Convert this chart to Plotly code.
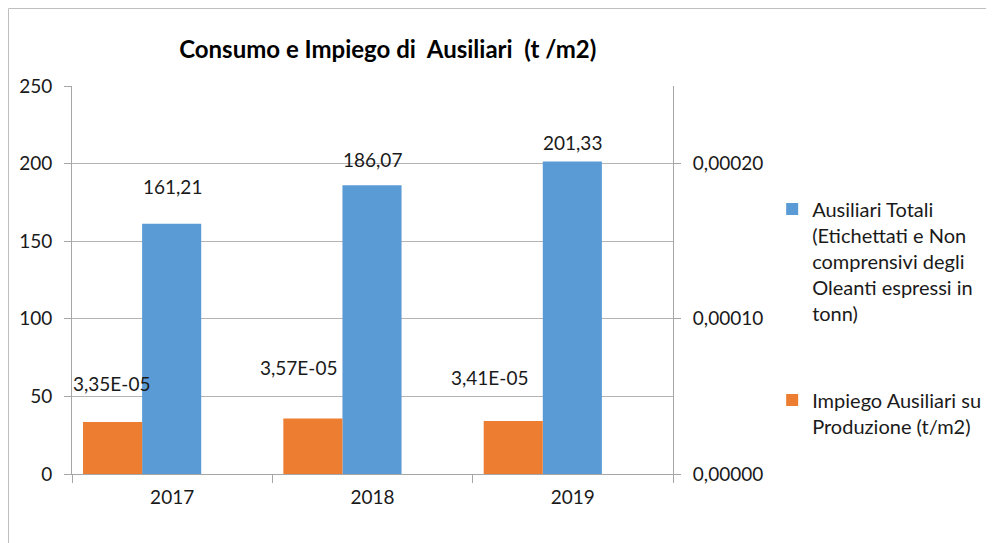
import plotly.graph_objects as go

# Dati
anni = ["2017", "2018", "2019"]
ausiliari_totali = [161.21, 186.07, 201.33]
impiego_su_produzione = [3.35e-05, 3.57e-05, 3.41e-05]

nome_totali = "Ausiliari Totali<br>(Etichettati e Non<br>comprensivi degli<br>Oleanti espressi in<br>tonn)"
nome_impiego = "Impiego Ausiliari su<br>Produzione (t/m2)"

blu = "#5B9BD5"
arancio = "#ED7D31"
grigio_assi = "#A6A6A6"
font_base = "Lato"
testo = "#1a1a1a"

# area del grafico (px, coordinate della figura)
W, H = 994, 543
ml, mt, mr, mb = 64, 78, 329, 77
pw, ph = W - ml - mr, H - mt - mb

fig = go.Figure()

# Serie su asse principale (blu)
fig.add_trace(go.Bar(
    x=anni, y=ausiliari_totali, name=nome_totali,
    marker=dict(color=blu, line=dict(width=0)),
    offset=-0.15, width=0.295,
    legendgroup="a",
))

# Serie su asse secondario (arancio), a sinistra nel gruppo
fig.add_trace(go.Bar(
    x=anni, y=impiego_su_produzione, name=nome_impiego,
    marker=dict(color=arancio, line=dict(width=0)),
    offset=-0.445, width=0.295,
    yaxis="y2", legendgroup="b",
))

# Etichette dati (spostate a mano come nell'originale)
# x come indice di categoria: le stringhe "2017" verrebbero lette come numeri
sposta_blu = [(0, 37), (0, 26), (0, 19)]
sposta_arancio = [(-61, 39), (-74, 51), (-83, 44)]

for i, (v, (dx, dy)) in enumerate(zip(ausiliari_totali, sposta_blu)):
    fig.add_annotation(
        x=i, y=v, xref="x", yref="y",
        text=f"{v:.2f}".replace(".", ","), showarrow=False,
        xshift=dx, yshift=dy, yanchor="middle",
        font=dict(family=font_base, size=19, color=testo),
    )

for i, (v, (dx, dy)) in enumerate(zip(impiego_su_produzione, sposta_arancio)):
    fig.add_annotation(
        x=i, y=v, xref="x", yref="y2",
        text=f"{v:.2E}".replace(".", ","), showarrow=False,
        xshift=dx, yshift=dy, yanchor="middle",
        font=dict(family=font_base, size=19, color=testo),
    )

# Cornice esterna del grafico
fig.add_shape(
    type="rect", xref="paper", yref="paper",
    x0=(0.5 - ml) / pw, x1=(W - 0.5 - ml) / pw,
    y0=-(mb - 0.5) / ph, y1=1 + (mt - 0.5) / ph,
    line=dict(color="#BFBFBF", width=1), layer="below",
)

fig.update_layout(
    width=W, height=H,
    margin=dict(l=ml, r=mr, t=mt, b=mb),
    paper_bgcolor="white", plot_bgcolor="white",
    font=dict(family=font_base, size=19, color=testo),
    separators=",.",
    barmode="overlay",
    title=dict(
        text="<b>Consumo e Impiego di\u00a0\u00a0Ausiliari\u00a0\u00a0(t /m2)</b>",
        x=0.382, xanchor="center", y=0.923, yanchor="middle",
        font=dict(family=font_base, size=24, color="black"),
    ),
    xaxis=dict(
        type="category", range=[-0.5, 2.5],
        showline=True, linecolor=grigio_assi, linewidth=1,
        ticks="outside", tickson="boundaries", ticklen=8, tickcolor=grigio_assi,
        showgrid=False, ticklabelstandoff=6,
    ),
    yaxis=dict(
        range=[0, 250], dtick=50,
        showline=True, linecolor=grigio_assi, linewidth=1,
        ticks="outside", ticklen=7, tickcolor=grigio_assi,
        showgrid=True, gridcolor="#B4B4B4", gridwidth=1,
        zeroline=False, ticklabelstandoff=8,
    ),
    yaxis2=dict(
        overlaying="y", side="right", range=[0, 0.00025],
        tickvals=[0, 0.0001, 0.0002], tickformat=".5f",
        showline=True, linecolor=grigio_assi, linewidth=1,
        ticks="outside", ticklen=7, tickcolor=grigio_assi,
        showgrid=False, zeroline=False, ticklabelstandoff=8,
    ),
    showlegend=True,
    legend=dict(
        x=1.165, xanchor="left", y=0.733, yanchor="top",
        valign="top", traceorder="grouped", tracegroupgap=58,
        bgcolor="rgba(0,0,0,0)", borderwidth=0,
        font=dict(family=font_base, size=20, color=testo),
    ),
)

fig.write_html("out.html")
